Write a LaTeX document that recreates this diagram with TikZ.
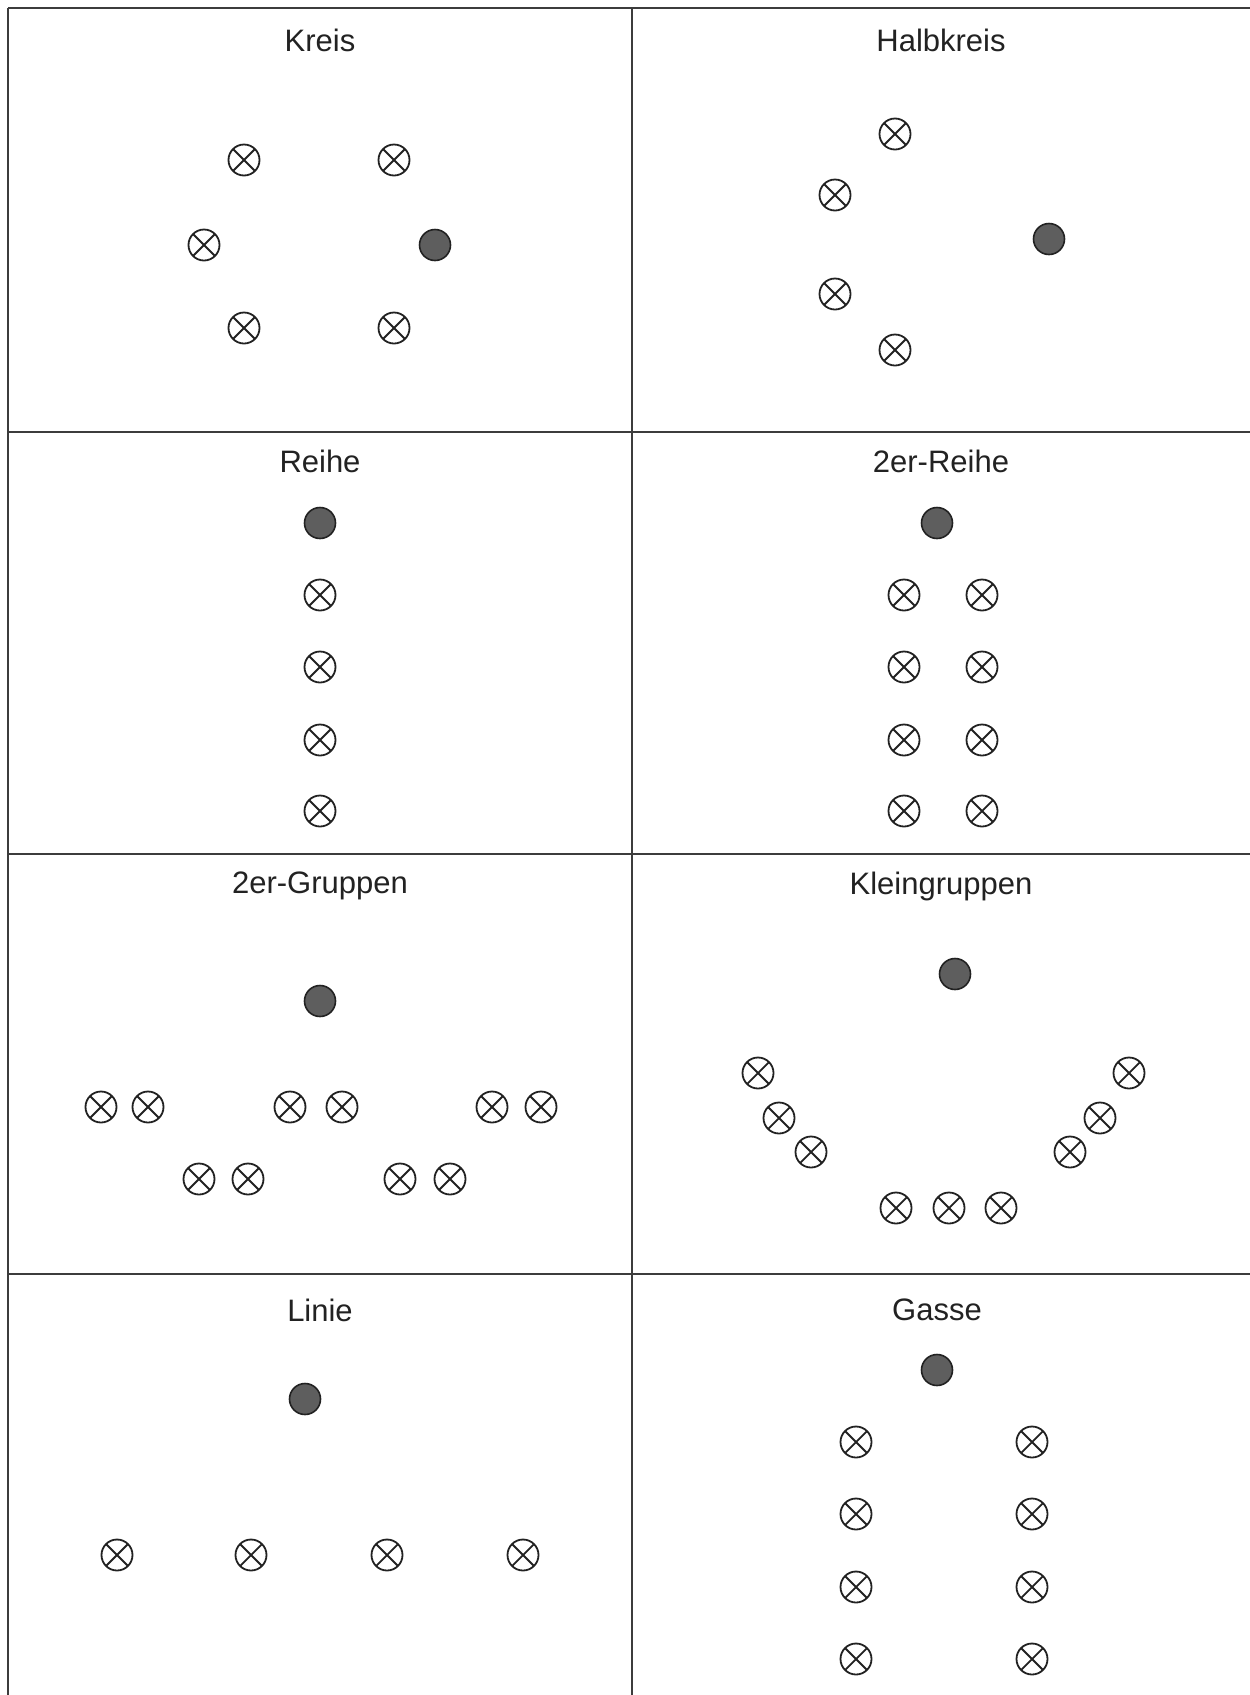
\documentclass[tikz,border=0pt]{standalone}
\usepackage{fontspec}
\setmainfont{Liberation Sans}
\definecolor{linegray}{HTML}{3C3C3C}
\definecolor{fillgray}{HTML}{5E5E5E}
\definecolor{inkgray}{HTML}{222222}
\begin{document}
\begin{tikzpicture}[x=1pt,y=-1pt,
  frame/.style={draw=linegray,line width=2.4pt},
  title/.style={font=\fontsize{31}{36}\selectfont,text=inkgray,anchor=center,inner sep=0pt},
  pers/.style={circle,draw=inkgray,line width=1.8pt,minimum size=31pt,inner sep=0pt,
    path picture={\draw[inkgray,line width=1.8pt]
      (path picture bounding box.north west) -- (path picture bounding box.south east)
      (path picture bounding box.north east) -- (path picture bounding box.south west);}},
  lead/.style={circle,draw=inkgray,fill=fillgray,line width=1.6pt,minimum size=31pt,inner sep=0pt}]
\useasboundingbox (0,0) rectangle (1250,1695);
\fill[white] (0,0) rectangle (1250,1695);
% grid
\coordinate (tl) at (8,8);
\coordinate (tr) at (1250,8);
\coordinate (bl) at (8,1695);
\coordinate (mt) at (632,8);
\coordinate (mb) at (632,1695);
\coordinate (h1l) at (8,432);   \coordinate (h1r) at (1250,432);
\coordinate (h2l) at (8,854);   \coordinate (h2r) at (1250,854);
\coordinate (h3l) at (8,1274);  \coordinate (h3r) at (1250,1274);
\draw[frame] (tl) -- (tr);
\draw[frame] (tl) -- (bl);
\draw[frame] (mt) -- (mb);
\draw[frame] (h1l) -- (h1r);
\draw[frame] (h2l) -- (h2r);
\draw[frame] (h3l) -- (h3r);
% titles
\node[title] (t1) at (320,40) {Kreis};
\node[title] (t2) at (941,40) {Halbkreis};
\node[title] (t3) at (320,461) {Reihe};
\node[title] (t4) at (941,461) {2er-Reihe};
\node[title] (t5) at (320,886) {2er-Gruppen};
\node[title] (t6) at (941,886) {Kleingruppen};
\node[title] (t7) at (320,1310) {Linie};
\node[title] (t8) at (937,1310) {Gasse};
% Kreis
\node[pers] (k1) at (244,160) {};
\node[pers] (k2) at (394,160) {};
\node[pers] (k3) at (204,245) {};
\node[lead] (k0) at (435,245) {};
\node[pers] (k4) at (244,328) {};
\node[pers] (k5) at (394,328) {};
% Halbkreis
\node[pers] (hk1) at (895,134) {};
\node[pers] (hk2) at (835,195) {};
\node[lead] (hk0) at (1049,239) {};
\node[pers] (hk3) at (835,294) {};
\node[pers] (hk4) at (895,350) {};
% Reihe
\node[lead] (r0) at (320,523) {};
\node[pers] (r1) at (320,595) {};
\node[pers] (r2) at (320,667) {};
\node[pers] (r3) at (320,740) {};
\node[pers] (r4) at (320,811) {};
% 2er-Reihe
\node[lead] (zr0) at (937,523) {};
\node[pers] (zr1) at (904,595) {};
\node[pers] (zr2) at (982,595) {};
\node[pers] (zr3) at (904,667) {};
\node[pers] (zr4) at (982,667) {};
\node[pers] (zr5) at (904,740) {};
\node[pers] (zr6) at (982,740) {};
\node[pers] (zr7) at (904,811) {};
\node[pers] (zr8) at (982,811) {};
% 2er-Gruppen
\node[lead] (g0) at (320,1001) {};
\node[pers] (g1) at (101,1107) {};
\node[pers] (g2) at (148,1107) {};
\node[pers] (g3) at (290,1107) {};
\node[pers] (g4) at (342,1107) {};
\node[pers] (g5) at (492,1107) {};
\node[pers] (g6) at (541,1107) {};
\node[pers] (g7) at (199,1179) {};
\node[pers] (g8) at (248,1179) {};
\node[pers] (g9) at (400,1179) {};
\node[pers] (g10) at (450,1179) {};
% Kleingruppen
\node[lead] (kg0) at (955,974) {};
\node[pers] (kg1) at (758,1073) {};
\node[pers] (kg2) at (779,1118) {};
\node[pers] (kg3) at (811,1152) {};
\node[pers] (kg4) at (896,1208) {};
\node[pers] (kg5) at (949,1208) {};
\node[pers] (kg6) at (1001,1208) {};
\node[pers] (kg7) at (1070,1152) {};
\node[pers] (kg8) at (1100,1118) {};
\node[pers] (kg9) at (1129,1073) {};
% Linie
\node[lead] (l0) at (305,1399) {};
\node[pers] (l1) at (117,1555) {};
\node[pers] (l2) at (251,1555) {};
\node[pers] (l3) at (387,1555) {};
\node[pers] (l4) at (523,1555) {};
% Gasse
\node[lead] (ga0) at (937,1370) {};
\node[pers] (ga1) at (856,1442) {};
\node[pers] (ga2) at (1032,1442) {};
\node[pers] (ga3) at (856,1514) {};
\node[pers] (ga4) at (1032,1514) {};
\node[pers] (ga5) at (856,1587) {};
\node[pers] (ga6) at (1032,1587) {};
\node[pers] (ga7) at (856,1659) {};
\node[pers] (ga8) at (1032,1659) {};
\end{tikzpicture}
\end{document}
